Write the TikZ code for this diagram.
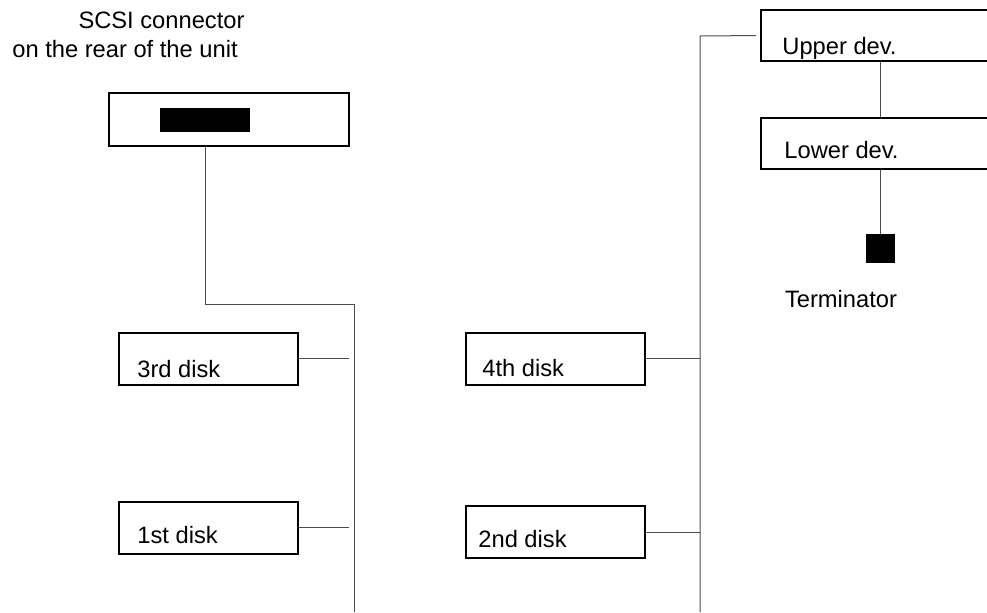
\documentclass[tikz,border=0pt]{standalone}
\usepackage{fontspec}
\setmainfont{Liberation Sans}
\begin{document}
\begin{tikzpicture}[x=0.5pt, y=-0.5pt,
  txt/.style={inner sep=0pt, font=\fontsize{11.85}{14}\selectfont},
  lbl/.style={txt, anchor=base west},
  box/.style={draw, line width=1pt, inner sep=0pt},
  disk/.style={box, minimum width=89.5pt, minimum height=26pt},
  dev/.style={box, minimum width=119pt, minimum height=25.5pt},
  wire/.style={draw=black!70, line width=0.5pt}]
  \useasboundingbox (0,0) rectangle (987,612);
  \clip (0,0) rectangle (987,612);
  % connector on the rear of the unit
  \node[txt] (hdr1) at (161.5,20) {SCSI connector};
  \node[txt] (hdr2) at (125,49) {on the rear of the unit};
  \node[box, minimum width=120pt, minimum height=26.5pt] (conn) at (229,119.5) {};
  \node[fill=black, inner sep=0pt, minimum width=45pt, minimum height=12pt] (plug) at (205,120) {};
  % disks
  \node[disk] (d3) at (208.5,358.5) {};
  \node[disk] (d1) at (208.5,527.5) {};
  \node[disk] (d4) at (555.5,358.5) {};
  \node[disk] (d2) at (555.5,532) {};
  \node[lbl] (d3lbl) at ([shift={(19,-8)}]d3.south west) {3rd disk};
  \node[lbl] (d1lbl) at ([shift={(19,-11)}]d1.south west) {1st disk};
  \node[lbl] (d4lbl) at ([shift={(17,-9)}]d4.south west) {4th disk};
  \node[lbl] (d2lbl) at ([shift={(13,-12)}]d2.south west) {2nd disk};
  % devices and terminator
  \node[dev] (upper) at (880,35.5) {};
  \node[dev] (lower) at (880,143) {};
  \node[lbl] (uplbl) at ([shift={(22,-8)}]upper.south west) {Upper dev.};
  \node[lbl] (lolbl) at ([shift={(24,-11)}]lower.south west) {Lower dev.};
  \node[fill=black, inner sep=0pt, minimum size=14.5pt] (term) at (880,248.5) {};
  \node[txt] (termlbl) at (841,299) {Terminator};
  % cables
  \coordinate (lt) at (354,304);
  \coordinate (lb) at (354,612);
  \coordinate (rt) at (700,36);
  \coordinate (rb) at (700,612);
  \draw[wire] (conn.south -| plug) |- (lt) -- (lb);
  \draw[wire, shorten >=2.5pt] (d3.east) -- (d3.east -| lt);
  \draw[wire, shorten >=2.5pt] (d1.east) -- (d1.east -| lt);
  \draw[wire, shorten >=2pt] (rb) -- (rt) -- (upper.west);
  \draw[wire] (d4.east) -- (d4.east -| rt);
  \draw[wire] (d2.east) -- (d2.east -| rt);
  \draw[wire] (upper.south) -- (lower.north);
  \draw[wire] (lower.south) -- (term.north);
\end{tikzpicture}
\end{document}
